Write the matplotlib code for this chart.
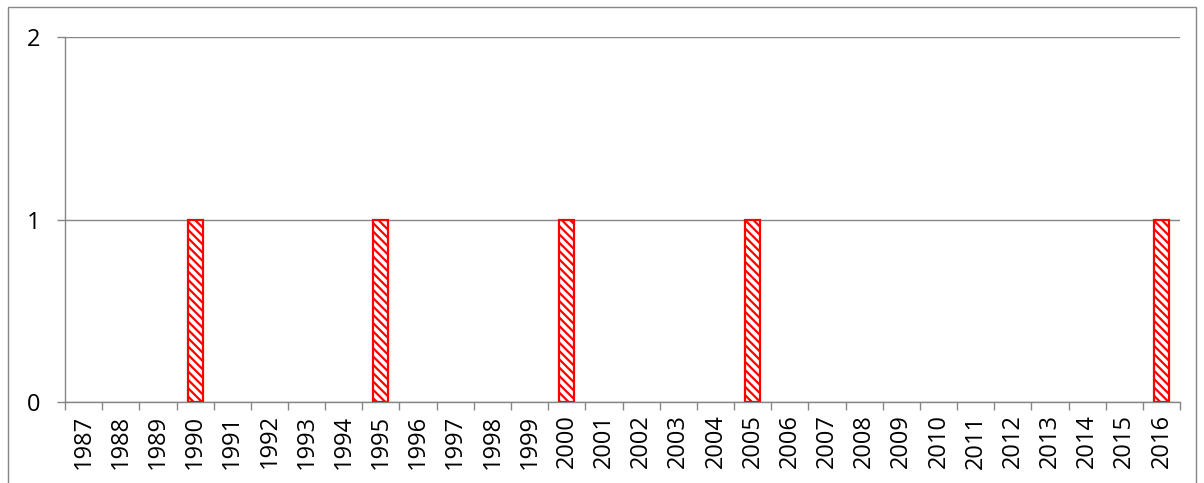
import matplotlib
matplotlib.use("Agg")
import matplotlib.pyplot as plt
from matplotlib.patches import Rectangle

years = [str(y) for y in range(1987, 2017)]
counts = [0, 0, 0, 1, 0, 0, 0, 0, 1, 0, 0, 0, 0, 1, 0, 0, 0, 0, 1, 0,
          0, 0, 0, 0, 0, 0, 0, 0, 0, 1]
y_ticks = [0, 1, 2]

plt.rcParams['font.family'] = ['Open Sans', 'DejaVu Sans']
plt.rcParams['hatch.color'] = '#FF0000'
plt.rcParams['hatch.linewidth'] = 1.6

W, H = 1204, 483
fig = plt.figure(figsize=(W / 100, H / 100), dpi=100)
ax = fig.add_axes([65 / W, 1 - 402 / H, (1180 - 65) / W, (402 - 37) / H])

grid_c = '#868686'
x = list(range(len(years)))
bx = [i for i, c in zip(x, counts) if c > 0]
bh = [c for c in counts if c > 0]
ax.bar(bx, bh, width=0.4, color='white', edgecolor='#FF0000',
       linewidth=1.6, hatch='\\\\\\\\', zorder=3)

ax.set_xlim(-0.5, len(years) - 0.5)
ax.set_ylim(0, 2)
ax.set_yticks(y_ticks)
ax.set_yticklabels([str(v) for v in y_ticks])
ax.yaxis.grid(True, color=grid_c, linewidth=1.0, zorder=0)
ax.set_axisbelow(True)

ax.set_xticks([i - 0.5 for i in range(len(years) + 1)], minor=False)
ax.set_xticklabels([])
ax.set_xticks(x, minor=True)
ax.set_xticklabels(years, minor=True, rotation=90, fontsize=17)
ax.tick_params(axis='x', which='major', length=6, width=1, color=grid_c, direction='out')
ax.tick_params(axis='x', which='minor', length=0, pad=9)
ax.tick_params(axis='y', length=6, width=1, color=grid_c, direction='out',
               labelsize=17, pad=12)

for s in ['top', 'right']:
    ax.spines[s].set_visible(False)
ax.spines['left'].set_color(grid_c)
ax.spines['bottom'].set_color(grid_c)
ax.spines['left'].set_linewidth(1.0)
ax.spines['bottom'].set_linewidth(1.0)

fig.patches.append(Rectangle((8 / W, -0.05), (1196 - 8) / W, 1 - 7 / H + 0.05,
                             transform=fig.transFigure, fill=False,
                             edgecolor='#868686', linewidth=1.0))

fig.savefig('out.png', dpi=100)
